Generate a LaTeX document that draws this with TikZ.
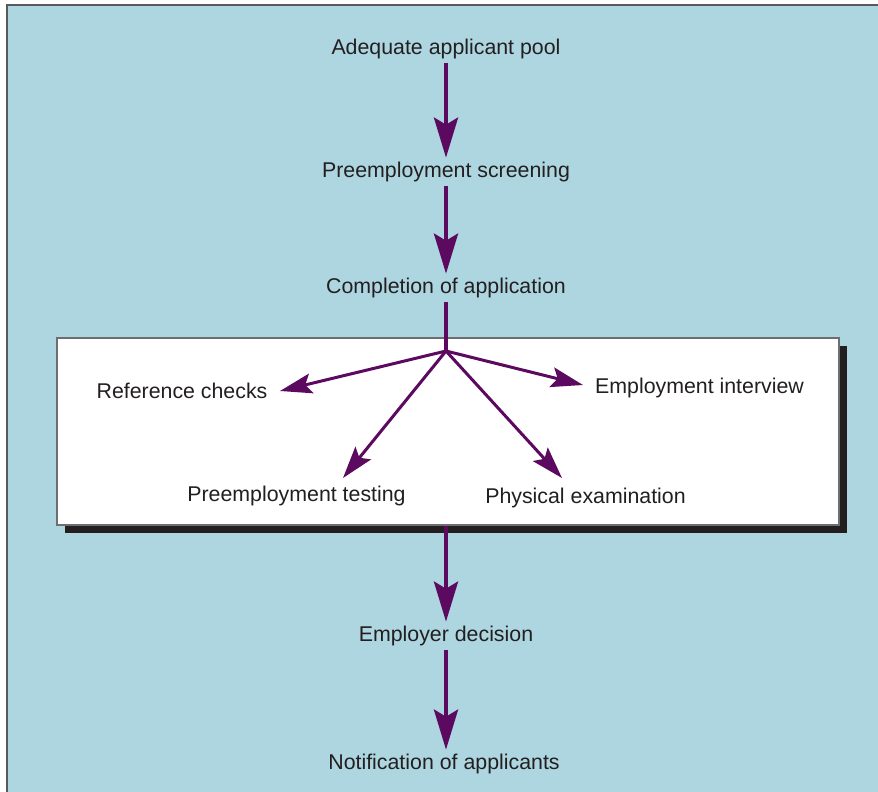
\documentclass[tikz,border=0pt]{standalone}
\usepackage{fontspec}
\setmainfont{Liberation Sans}
\usetikzlibrary{arrows.meta,shadows}
\definecolor{bgblue}{HTML}{ADD6E1}
\definecolor{arrowpurple}{HTML}{5C0A60}
\definecolor{textdark}{HTML}{231F20}
\definecolor{framegray}{HTML}{58595B}
\definecolor{boxgray}{HTML}{6D6E71}
\begin{document}
\begin{tikzpicture}[x=0.5pt,y=-0.5pt,
  lbl/.style={font=\fontsize{10.67pt}{12pt}\selectfont, text=textdark, inner sep=2pt},
  mainarrow/.style={draw=arrowpurple, line width=2.2pt, -{Stealth[length=20pt,width=12pt,inset=3.5pt]}},
  brancharrow/.style={draw=arrowpurple, line width=1.5pt, -{Stealth[length=16pt,width=10pt,inset=3pt]}},
  stemline/.style={draw=arrowpurple, line width=2.2pt},
  whitebox/.style={draw=boxgray, line width=1pt, fill=white, minimum width=391pt, minimum height=93.3pt, inner sep=0pt,
    drop shadow={shadow xshift=4pt, shadow yshift=-4pt, fill=textdark, opacity=1}}]
\useasboundingbox (0,0) rectangle (878,792);
\fill[white] (0,0) rectangle (878,792);
\fill[bgblue] (6.5,5.5) rectangle (880,795);
\draw[framegray, line width=1pt] (6.5,795) -- (6.5,5.5) -- (880,5.5);

% main column
\node[lbl] (pool) at (446,49) {Adequate applicant pool};
\node[lbl] (screen) at (446,172) {Preemployment screening};
\node[lbl] (complete) at (446,288) {Completion of application};
\node[lbl] (decision) at (446,636) {Employer decision};
\node[lbl] (notify) at (444,764) {Notification of applicants};

% box
\node[whitebox] (box) at (448.3,431.7) {};
\node[lbl] (ref) at (182,391) {Reference checks};
\node[lbl] (interview) at (699.5,388) {Employment interview};
\node[lbl] (testing) at (296.5,496) {Preemployment testing};
\node[lbl] (physical) at (585.5,498) {Physical examination};

\coordinate (apex) at (446,351);
\coordinate (refTip) at (280,391);
\coordinate (intTip) at (583,385);
\coordinate (testTip) at (343,478);
\coordinate (physTip) at (562,478);

\draw[mainarrow] (pool.south) -- (screen.north);
\draw[mainarrow] (screen.south) -- (complete.north);
\draw[stemline] (complete.south) -- (apex);
\draw[brancharrow] (apex) -- (refTip);
\draw[brancharrow] (apex) -- (intTip);
\draw[brancharrow] (apex) -- (testTip);
\draw[brancharrow] (apex) -- (physTip);
\draw[mainarrow] (decision |- box.south) -- (decision.north);
\draw[mainarrow] (decision.south) -- ([xshift=1pt]notify.north);
\end{tikzpicture}
\end{document}
